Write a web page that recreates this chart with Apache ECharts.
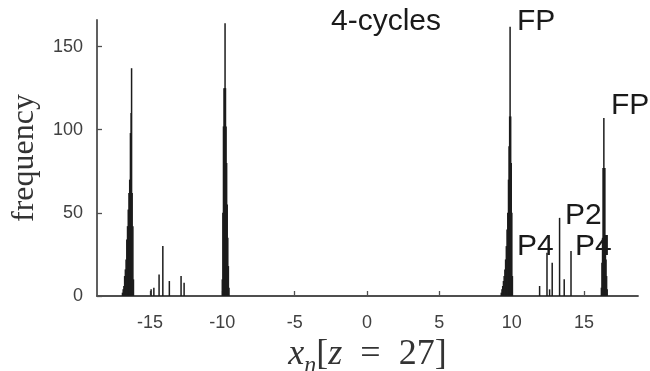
<!DOCTYPE html>
<html>
<head>
<meta charset="utf-8">
<script src="https://cdn.jsdelivr.net/npm/echarts@6/dist/echarts.min.js"></script>
<style>html,body{margin:0;padding:0;background:#fff}#c{width:650px;height:371px}</style>
</head>
<body>
<div id="c"></div>
<script>
// ---- data ----
var BIN = 0.05; // histogram bin width (x units)
var peakA_x = [-16.90,-16.85,-16.80,-16.75,-16.70,-16.65,-16.60,-16.55,-16.50,-16.45,-16.40,-16.35,-16.30,-16.27,-16.23,-16.18,-16.14];
var peakA_f = [2,4,6,12,16,22,34,42,52,62,70,98,110,137,62,42,10];
var peakB_x = [-10.00,-9.96,-9.92,-9.88,-9.84,-9.81,-9.78,-9.74,-9.70,-9.66,-9.62,-9.58,-9.54];
var peakB_f = [10,50,102,125,125,164,125,102,80,55,35,18,5];
var peakC_x = [9.28,9.33,9.38,9.43,9.48,9.53,9.58,9.63,9.68,9.73,9.78,9.82,9.86,9.89,9.93,9.97,10.01,10.05];
var peakC_f = [2,4,6,9,12,16,22,30,40,50,70,90,108,162,108,80,50,12];
var peakD_x = [16.20,16.24,16.28,16.32,16.35,16.37,16.40,16.44,16.48,16.52,16.56,16.60];
var peakD_f = [5,20,35,77,77,107,77,77,35,22,12,4];
var leftP_x = [-14.92,-14.73,-14.37,-14.11,-13.66,-12.85,-12.64];
var leftP_f = [4,5,13,30,9,12,8];
var rightP_x = [11.93,12.44,12.62,12.80,13.31,13.63,14.10];
var rightP_f = [6,26,4,20,47,10,27];
var xTicks = [-15,-10,-5,0,5,10,15];
var yTicks = [0,50,100,150];
var labels = ['4-cycles','FP','FP','P2','P4','P4'];

function zip(xs, fs){ return xs.map(function(x,i){ return [x, fs[i]]; }); }
var histData = [].concat(
  zip(peakA_x, peakA_f), zip(peakB_x, peakB_f), zip(peakC_x, peakC_f),
  zip(peakD_x, peakD_f), zip(leftP_x, leftP_f), zip(rightP_x, rightP_f));

function renderBar(params, api){
  var x = api.value(0), y = api.value(1);
  var p0 = api.coord([x - BIN/2, 0]);
  var p1 = api.coord([x + BIN/2, y]);
  var w = Math.max(p1[0] - p0[0], 1.5);
  var cx = (p0[0] + p1[0]) / 2;
  return {type:'rect', shape:{x: cx - w/2, y: p1[1], width: w, height: p0[1] - p1[1]},
          style:{fill:'#1c1c1c'}};
}

var axisCol = '#4f4f4f';
var labFont = {fontFamily:'Liberation Sans, Arial, sans-serif', fontSize:18, color:'#404040'};
var annFont = '30px "Liberation Sans", Arial, sans-serif';
function ann(text, x, y){
  return {type:'text', x:x, y:y, z:10,
    style:{text:text, font:annFont, fill:'#1a1a1a', align:'left', verticalAlign:'middle'}};
}
var serif = 'Liberation Serif, Times New Roman, serif';

var chart = echarts.init(document.getElementById('c'), null, {renderer:'canvas'});
chart.setOption({
  animation:false,
  backgroundColor:'#ffffff',
  grid:{left:97, right:12, top:20, bottom:75, containLabel:false, outerBoundsMode:'none'},
  xAxis:{
    type:'value', min:-18.66, max:18.73,
    name:'{i|x}{sub|n}{r|[}{i|z}{r|  =  27]}',
    nameLocation:'middle', nameGap:25,
    nameTextStyle:{rich:{
      i:{fontFamily:serif, fontStyle:'italic', fontSize:36, lineHeight:46, color:'#333', verticalAlign:'middle'},
      sub:{fontFamily:serif, fontStyle:'italic', fontSize:24, lineHeight:32, color:'#333', verticalAlign:'bottom'},
      r:{fontFamily:serif, fontSize:36, lineHeight:46, color:'#333', verticalAlign:'middle'}
    }},
    axisLine:{show:true, onZero:false, lineStyle:{color:axisCol, width:1.8}},
    axisTick:{show:true, inside:true, length:5, customValues:xTicks, lineStyle:{color:axisCol, width:1.3}},
    axisLabel:Object.assign({customValues:xTicks, margin:18}, labFont),
    splitLine:{show:false}
  },
  yAxis:{
    type:'value', min:0, max:166,
    name:'frequency', nameLocation:'middle', nameGap:56,
    nameTextStyle:{fontFamily:serif, fontSize:32, color:'#333'},
    axisLine:{show:true, onZero:false, lineStyle:{color:axisCol, width:1.8}},
    axisTick:{show:true, inside:true, length:5, customValues:yTicks, lineStyle:{color:axisCol, width:1.3}},
    axisLabel:Object.assign({customValues:yTicks, margin:14}, labFont),
    splitLine:{show:false}
  },
  series:[{
    type:'custom', renderItem:renderBar, data:histData,
    encode:{x:0, y:1}, clip:true
  }],
  graphic:[
    ann(labels[0], 331, 22),
    ann(labels[1], 517, 22),
    ann(labels[2], 611, 106),
    ann(labels[3], 565, 216),
    ann(labels[4], 517, 247),
    ann(labels[5], 575, 247)
  ]
});
</script>
</body>
</html>
